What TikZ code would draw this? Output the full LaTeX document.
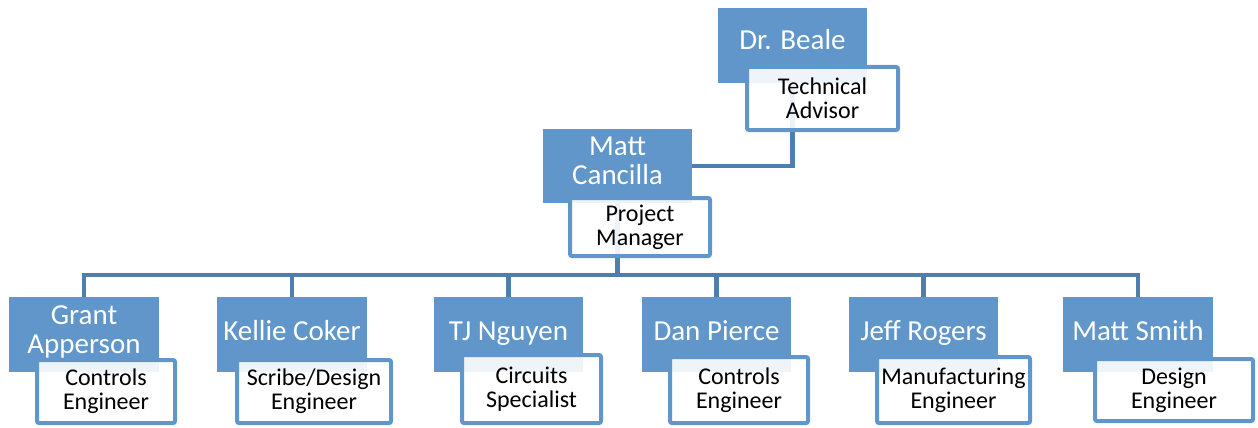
\documentclass[tikz,border=0pt]{standalone}
\usepackage{fontspec}
\setmainfont{Carlito}
\definecolor{boxblue}{HTML}{6096C9}
\definecolor{linkblue}{HTML}{4E7EAE}
\begin{document}
\begin{tikzpicture}[x=1pt,y=-1pt,
  namebox/.style={fill=boxblue, draw=none, inner sep=0pt, minimum width=150pt, minimum height=75pt},
  nametext/.style={text=white, font=\fontsize{29}{28.5}\selectfont, align=center, inner sep=0pt, anchor=base},
  rolebox/.style={draw=boxblue, line width=4pt, fill=white, fill opacity=0.9, text opacity=1,
    rounded corners=2pt, inner sep=0pt, align=center, font=\fontsize{24}{24}\selectfont},
  conn/.style={draw=linkblue, line width=4.5pt}]
\useasboundingbox (0,0) rectangle (1258,428);

% coloured name boxes
\node[namebox, minimum width=149pt] (beale) at (792.5,45.5) {};
\node[namebox, minimum width=149pt, minimum height=74pt] (matt) at (617.5,166) {};
\node[namebox] (grant)  at (84,334.5) {};
\node[namebox] (kellie) at (292,334.5) {};
\node[namebox, minimum width=149pt] (tj)   at (508.5,334.5) {};
\node[namebox, minimum width=149pt] (dan)  at (716.5,334.5) {};
\node[namebox, minimum width=149pt] (jeff) at (923.5,334.5) {};
\node[namebox] (smith)  at (1138,334.5) {};

% connectors, behind the role boxes
\coordinate (bus) at (0,275);
\draw[conn] (beale.south) |- (matt.east);
\foreach \c in {grant,kellie,tj,dan,jeff,smith}
  \draw[conn] (matt.south) -- (matt.south |- bus) -| (\c.north);

% names, anchored at the baseline of their last line
\coordinate (base) at (0,340);
\node[nametext] (beale-t)  at (beale.center |- 0,50)   {Dr. Beale};
\node[nametext] (matt-t)   at (matt.center |- 0,184)   {Matt\\Cancilla};
\node[nametext] (grant-t)  at (grant.center |- 0,353)  {Grant\\Apperson};
\node[nametext] (kellie-t) at (kellie.center |- base)  {Kellie Coker};
\node[nametext] (tj-t)     at (tj.center |- base)      {TJ Nguyen};
\node[nametext] (dan-t)    at (dan.center |- base)     {Dan Pierce};
\node[nametext] (jeff-t)   at (jeff.center |- base)    {Jeff Rogers};
\node[nametext] (smith-t)  at (smith.center |- base)   {Matt Smith};

% role boxes
\node[rolebox, minimum width=151pt, minimum height=63pt] (beale-r)  at (822.5,98.5) {Technical\\Advisor};
\node[rolebox, minimum width=140pt, minimum height=58pt] (matt-r)   at (640,227)    {Project\\Manager};
\node[rolebox, minimum width=138pt, minimum height=63pt] (grant-r)  at (106,391.5)  {Controls\\Engineer};
\node[rolebox, minimum width=154pt, minimum height=63pt] (kellie-r) at (314,391.5)  {Scribe/Design\\Engineer};
\node[rolebox, minimum width=139pt, minimum height=68pt] (tj-r)     at (531.5,389)  {Circuits\\Specialist};
\node[rolebox, minimum width=138pt, minimum height=66pt] (dan-r)    at (739,390)    {Controls\\Engineer};
\node[rolebox, minimum width=153pt, minimum height=66pt] (jeff-r)   at (953.5,390)  {Manufacturing\\Engineer};
\node[rolebox, minimum width=158pt, minimum height=62pt] (smith-r)  at (1174,390)   {Design\\Engineer};
\end{tikzpicture}
\end{document}
